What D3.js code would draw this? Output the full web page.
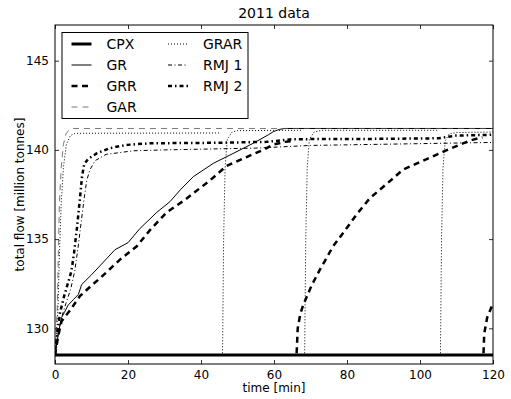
<!DOCTYPE html>
<html>
<head>
<meta charset="utf-8">
<script src="https://cdn.jsdelivr.net/npm/d3@7"></script>
<style>
  html, body { margin: 0; padding: 0; background: #fff; }
  svg text { font-family: "DejaVu Sans", sans-serif; }
</style>
</head>
<body>
<div id="chart"></div>
<script>
// time [min] and total flow [million tonnes]; null marks a break between runs
const cpxT = [0, 120];
const cpxV = [128.5, 128.5];

const grT = [0, 0.6, 1.2, 1.8, 2.6, 3.6, 5, 6.4, 7.3, 10, 12.3, 16.4, 20, 23.3, 27.9, 31.5, 34.5, 37.9, 43.4, 48.8, 54.3, 58.4, 59.8, 61.5, 63, 120];
const grV = [128.5, 129.3, 130.0, 130.6, 130.9, 131.3, 131.6, 131.9, 132.45, 133.0, 133.5, 134.4, 134.8, 135.6, 136.5, 137.1, 137.8, 138.5, 139.25, 139.8, 140.37, 140.84, 141.02, 141.15, 141.2, 141.2];

const grrT = [0, 0.9, 1.8, 4.1, 6.8, 10, 12.3, 17.8, 22.4, 26, 30.6, 35.6, 42.5, 47, 52.5, 57, 59.8, 63, 65.6,
  null, 66.2, 66.5, 67.2, 68, 70.3, 72.6, 74, 76.2, 79.5, 82.7, 86.3, 90.9, 95.4, 100.9, 106.4, 111, 113.7, 116, 117.1,
  null, 117.4, 117.6, 118.4, 120];
const grrV = [128.5, 129.6, 130.4, 131.0, 131.8, 132.4, 132.8, 133.85, 134.6, 135.5, 136.5, 137.2, 138.3, 139.1, 139.6, 140.0, 140.3, 140.45, 140.5,
  null, 128.6, 130.0, 130.8, 131.3, 132.4, 133.3, 133.8, 134.6, 135.5, 136.4, 137.3, 138.1, 138.9, 139.4, 139.9, 140.3, 140.52, 140.65, 140.7,
  null, 128.6, 129.7, 130.6, 131.4];

const garT = [0, 0.6, 0.9, 1.2, 1.7, 2.3, 3, 4, 5, 120];
const garV = [128.5, 131, 134, 137, 139, 140.3, 140.9, 141.15, 141.2, 141.2];

const grarT = [0, 0.8, 1.2, 1.7, 2.3, 3.1, 4.2, 5.5, 45,
  null, 45.9, 46.2, 46.6, 47.2, 48.5, 50, 68,
  null, 68.4, 68.7, 69.1, 69.7, 71, 73, 105.2,
  null, 105.6, 105.9, 106.3, 106.9, 108, 110, 120];
const grarV = [128.5, 131, 134, 137, 139, 140.3, 140.8, 140.93, 140.95,
  null, 128.6, 135, 139, 140.6, 141.0, 141.08, 141.1,
  null, 128.6, 135, 139, 140.6, 141.0, 141.1, 141.1,
  null, 128.6, 135, 139, 140.5, 140.9, 140.97, 141.0];

const rmj1T = [0, 0.9, 1.8, 3, 4.3, 5.4, 6.3, 7.2, 8, 8.7, 9.6, 11, 14, 21.5, 30, 55, 70, 100, 120];
const rmj1V = [128.5, 129.7, 130.6, 131.4, 132.2, 133.2, 134.5, 136.0, 137.3, 138.3, 138.9, 139.4, 139.75, 139.95, 140.0, 140.1, 140.25, 140.35, 140.42];

const rmj2T = [0, 0.7, 1.4, 2.5, 3.5, 4.5, 5.2, 6, 6.8, 7.4, 8, 9.1, 11.4, 15, 19.6, 26, 45, 58, 65, 90, 105, 110, 120];
const rmj2V = [128.5, 129.8, 130.9, 131.8, 132.5, 133.2, 134.2, 135.6, 137.2, 138.5, 139.2, 139.5, 139.8, 140.1, 140.28, 140.37, 140.4, 140.45, 140.6, 140.62, 140.65, 140.8, 140.85];

const xTicks = [0, 20, 40, 60, 80, 100, 120];
const yTicks = [130, 135, 140, 145];

const series = [
  { name: 'CPX',   t: cpxT,  v: cpxV,  width: 3,   dash: null },
  { name: 'GR',    t: grT,   v: grV,   width: 1,   dash: null },
  { name: 'GRR',   t: grrT,  v: grrV,  width: 2.5, dash: '6,4.5' },
  { name: 'GAR',   t: garT,  v: garV,  width: 0.8, dash: '6,5', color: '#555' },
  { name: 'GRAR',  t: grarT, v: grarV, width: 1,   dash: '1,2' },
  { name: 'RMJ 1', t: rmj1T, v: rmj1V, width: 1,   dash: '4,2.5,1,2.5' },
  { name: 'RMJ 2', t: rmj2T, v: rmj2V, width: 2.5, dash: '4,3,1.5,3' },
];

const width = 511, height = 399;
const margin = { top: 25, right: 18, bottom: 35, left: 55 };

const svg = d3.select('#chart')
  .append('svg')
  .attr('width', width)
  .attr('height', height);

const x = d3.scaleLinear().domain([0, 120]).range([margin.left, width - margin.right]);
const y = d3.scaleLinear().domain([128, 147]).range([height - margin.bottom, margin.top]);

svg.append('defs').append('clipPath').attr('id', 'plot')
  .append('rect')
  .attr('x', x(0)).attr('y', y(147))
  .attr('width', x(120) - x(0)).attr('height', y(128) - y(147));

const line = d3.line()
  .defined(d => d[0] !== null && d[1] !== null)
  .x(d => x(d[0]))
  .y(d => y(d[1]));

const lines = svg.append('g').attr('clip-path', 'url(#plot)');
series.forEach(s => {
  lines.append('path')
    .datum(s.t.map((t, i) => [t, s.v[i]]))
    .attr('d', line)
    .attr('fill', 'none')
    .attr('stroke', s.color || '#000')
    .attr('stroke-width', s.width)
    .attr('stroke-dasharray', s.dash);
});

// axes, matplotlib classic style: inward ticks on all four sides
const tickLen = 4;
const axisBottom = d3.axisBottom(x).tickValues(xTicks).tickSizeInner(-tickLen).tickSizeOuter(0).tickPadding(6);
const axisTop = d3.axisTop(x).tickValues(xTicks).tickSizeInner(-tickLen).tickSizeOuter(0).tickFormat('');
const axisLeft = d3.axisLeft(y).tickValues(yTicks).tickSizeInner(-tickLen).tickSizeOuter(0).tickPadding(6);
const axisRight = d3.axisRight(y).tickValues(yTicks).tickSizeInner(-tickLen).tickSizeOuter(0).tickFormat('');

function styleAxis(g) {
  g.select('.domain').remove();
  g.selectAll('.tick line').attr('stroke', '#000').attr('stroke-width', 0.8);
  g.selectAll('.tick text').attr('fill', '#000').style('font-size', '12px');
}

svg.append('g').attr('transform', `translate(0,${y(128)})`).call(axisBottom).call(styleAxis);
svg.append('g').attr('transform', `translate(0,${y(147)})`).call(axisTop).call(styleAxis);
svg.append('g').attr('transform', `translate(${x(0)},0)`).call(axisLeft).call(styleAxis);
svg.append('g').attr('transform', `translate(${x(120)},0)`).call(axisRight).call(styleAxis);

svg.append('rect')
  .attr('x', x(0)).attr('y', y(147))
  .attr('width', x(120) - x(0)).attr('height', y(128) - y(147))
  .attr('fill', 'none').attr('stroke', '#000').attr('stroke-width', 1);

svg.append('text')
  .attr('x', (x(0) + x(120)) / 2).attr('y', 18)
  .attr('text-anchor', 'middle')
  .style('font-size', '14px')
  .text('2011 data');

svg.append('text')
  .attr('x', (x(0) + x(120)) / 2).attr('y', 392)
  .attr('text-anchor', 'middle')
  .style('font-size', '12px')
  .text('time [min]');

svg.append('text')
  .attr('transform', `translate(24,${(y(128) + y(147)) / 2}) rotate(-90)`)
  .attr('text-anchor', 'middle')
  .style('font-size', '12px')
  .text('total flow [million tonnes]');

// legend, two columns
const legend = svg.append('g');
legend.append('rect')
  .attr('x', 62).attr('y', 32.5)
  .attr('width', 186).attr('height', 86)
  .attr('fill', '#fff').attr('stroke', '#000').attr('stroke-width', 1);

const rowY = [44, 65, 86, 107];
series.forEach((s, i) => {
  const col = i < 4 ? 0 : 1;
  const row = i < 4 ? i : i - 4;
  const hx = col === 0 ? 71.5 : 168;
  const g = legend.append('g').attr('transform', `translate(${hx},${rowY[row]})`);
  g.append('line')
    .attr('x1', 0).attr('x2', 20)
    .attr('stroke', s.color || '#000')
    .attr('stroke-width', s.width)
    .attr('stroke-dasharray', s.dash);
  g.append('text')
    .attr('x', 35).attr('dy', '0.35em')
    .style('font-size', '14px')
    .text(s.name);
});
</script>
</body>
</html>
